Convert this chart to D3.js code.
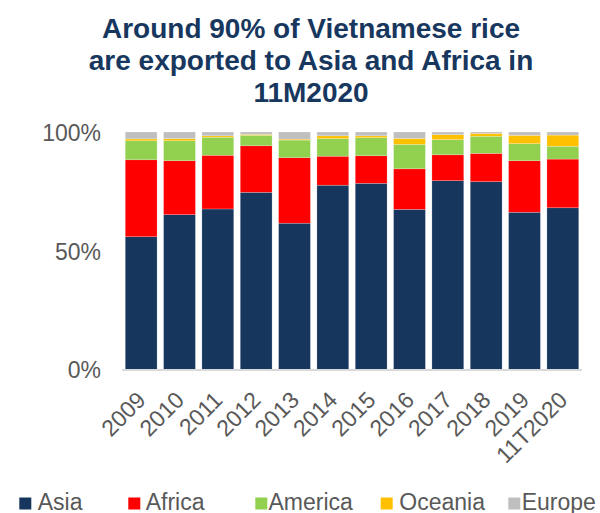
<!DOCTYPE html>
<html>
<head>
<meta charset="utf-8">
<script src="https://cdn.jsdelivr.net/npm/d3@7/dist/d3.min.js"></script>
<style>
  html, body { margin: 0; padding: 0; background: #fff; }
  svg { display: block; font-family: "Liberation Sans", Arial, sans-serif; }
</style>
</head>
<body>
<svg id="chart" width="600" height="513"></svg>
<script>
// Share of rice exports by destination region (%)
const years   = ["2009", "2010", "2011", "2012", "2013", "2014", "2015", "2016", "2017", "2018", "2019", "11T2020"];
const asia    = [55.9, 65.2, 67.6, 74.6, 61.6, 77.6, 78.4, 67.4, 79.5, 79.1, 66.2, 68.1];
const africa  = [32.4, 22.7, 22.6, 19.6, 27.6, 12.2, 11.6, 17.1, 10.9, 11.9, 21.7, 20.5];
const america = [8.0, 8.4, 7.6, 4.4, 7.4, 7.4, 7.6, 10.3, 6.4, 7.2, 7.2, 5.4];
const oceania = [0.8, 0.9, 0.6, 0.4, 0.4, 1.2, 0.8, 2.5, 2.1, 1.2, 3.5, 4.7];
const europe  = [2.9, 2.8, 1.6, 1.0, 3.0, 1.6, 1.6, 2.7, 1.1, 0.6, 1.4, 1.3];
const regions = ["Asia", "Africa", "America", "Oceania", "Europe"];
const yTicks  = [0, 50, 100];
const titleLines = ["Around 90% of Vietnamese rice", "are exported to Asia and Africa in", "11M2020"];

const colors = ["#17365D", "#FF0000", "#92D050", "#FFC000", "#BFBFBF"];
const seriesValues = [asia, africa, america, oceania, europe];

const rows = years.map((yr, i) => {
  const r = { year: yr };
  regions.forEach((k, j) => { r[k] = seriesValues[j][i]; });
  return r;
});

const svg = d3.select("#chart");
const plotLeft = 122, plotRight = 582, plotTop = 132, plotBottom = 369.5;

const x = d3.scaleBand().domain(years).range([plotLeft, plotRight]).paddingInner(0.17).paddingOuter(0.085);
const y = d3.scaleLinear().domain([0, 100]).range([plotBottom, plotTop]);
const color = d3.scaleOrdinal().domain(regions).range(colors);

// Title
const title = svg.append("text")
  .attr("x", 311).attr("text-anchor", "middle")
  .attr("font-size", 28).attr("font-weight", "bold").attr("fill", "#17375E");
titleLines.forEach((t, i) => {
  title.append("tspan").attr("x", 311).attr("y", 37.5 + i * 32).text(t);
});

// Stacked bars
const stacked = d3.stack().keys(regions)(rows);
svg.append("g").selectAll("g").data(stacked).join("g")
  .attr("fill", d => color(d.key))
  .selectAll("rect").data(d => d).join("rect")
  .attr("x", d => x(d.data.year))
  .attr("width", x.bandwidth())
  .attr("y", d => y(d[1]))
  .attr("height", d => y(d[0]) - y(d[1]))
  .attr("stroke", "#ffffff").attr("stroke-width", 0.6).attr("stroke-opacity", 0.35);

// Baseline
svg.append("line")
  .attr("x1", plotLeft).attr("x2", plotRight).attr("y1", plotBottom + 0.5).attr("y2", plotBottom + 0.5)
  .attr("stroke", "#D9D9D9").attr("stroke-width", 2);

// Y axis (labels only)
const yAxis = d3.axisLeft(y).tickValues(yTicks).tickFormat(d => d + "%").tickSize(0).tickPadding(0);
const yg = svg.append("g").attr("transform", "translate(101,0)").call(yAxis);
yg.select(".domain").remove();
yg.selectAll("text").attr("font-size", 23).attr("fill", "#595959")
  .attr("font-family", "Liberation Sans, Arial, sans-serif").attr("dy", "0.36em");

// X axis labels, rotated
const xAxis = d3.axisBottom(x).tickSize(0).tickPadding(0);
const xg = svg.append("g").attr("transform", `translate(0,${plotBottom})`).call(xAxis);
xg.select(".domain").remove();
xg.selectAll("text")
  .attr("font-size", 23).attr("fill", "#595959")
  .attr("font-family", "Liberation Sans, Arial, sans-serif")
  .attr("text-anchor", "end")
  .attr("dy", 0).attr("y", 0)
  .attr("transform", "translate(6,32) rotate(-45)");

// Legend
const legendX = [[19.3, 37.7], [128.3, 145.7], [255.3, 268.5], [380.7, 399.3], [508.3, 521.7]];
const lg = svg.append("g");
regions.forEach((k, i) => {
  lg.append("rect").attr("x", legendX[i][0]).attr("y", 497.5).attr("width", 12).attr("height", 12)
    .attr("fill", color(k));
  lg.append("text").attr("x", legendX[i][1]).attr("y", 509.5)
    .attr("font-size", 23).attr("fill", "#595959").text(k);
});
</script>
</body>
</html>
